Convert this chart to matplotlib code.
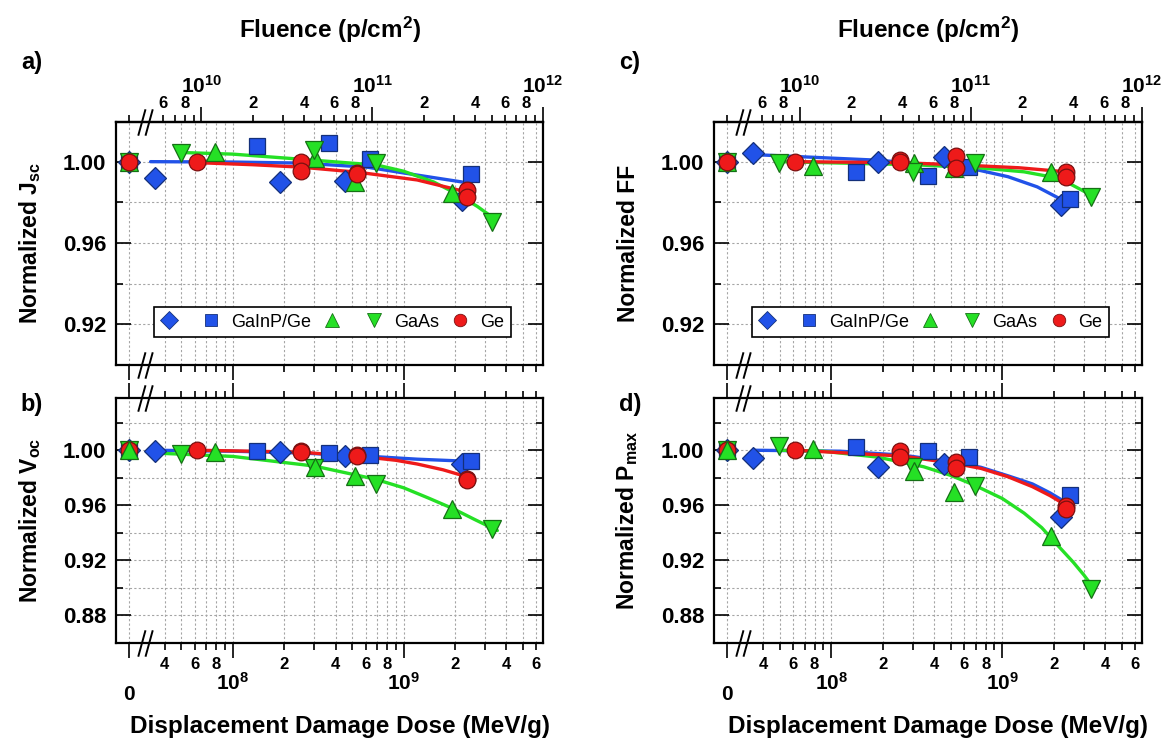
import matplotlib
matplotlib.use('Agg')
import matplotlib.pyplot as plt
import matplotlib.transforms as mtransforms
from matplotlib.lines import Line2D
from matplotlib.path import Path

plt.rcParams['font.family'] = ['Liberation Sans', 'DejaVu Sans']
plt.rcParams['font.weight'] = 'bold'
plt.rcParams['mathtext.fontset'] = 'custom'
plt.rcParams['mathtext.rm'] = 'Liberation Sans'
plt.rcParams['mathtext.bf'] = 'Liberation Sans:bold'
plt.rcParams['mathtext.it'] = 'Liberation Sans:italic'
plt.rcParams['mathtext.default'] = 'bf'

#
#--- displacement damage dose of each sample (MeV/g), 0 = unirradiated reference
#
dose_diamond = [0, 3.51e7, 1.89e8, 4.55e8, 2.19e9]
dose_square  = [0, 1.39e8, 3.67e8, 6.37e8, 2.49e9]
dose_up      = [0, 7.88e7, 3.03e8, 5.20e8, 1.93e9]
dose_down    = [0, 4.99e7, 3.00e8, 6.92e8, 3.31e9]
dose_ge      = [0, 6.18e7, 2.51e8, 2.51e8, 5.35e8, 5.35e8, 2.36e9, 2.36e9]

#
#--- normalized Jsc
#
jsc_diamond = [1.000, 0.9919, 0.9900, 0.9905, 0.9812]
jsc_square  = [1.000, 1.0076, 1.0090, 1.0012, 0.9939]
jsc_up      = [1.000, 1.0046, 1.0020, 0.9900, 0.9846]
jsc_down    = [1.000, 1.0041, 1.0056, 0.9993, 0.9705]
jsc_ge      = [1.000, 1.000, 1.000, 0.9954, 0.9944, 0.9938, 0.9861, 0.9827]
#
#--- normalized Voc
#
voc_diamond = [1.000, 0.9993, 0.9986, 0.9957, 0.9899]
voc_square  = [1.000, 0.9993, 0.9978, 0.9964, 0.9921]
voc_up      = [1.000, 0.9986, 0.9877, 0.9813, 0.9575]
voc_down    = [1.000, 0.9971, 0.9870, 0.9755, 0.9430]
voc_ge      = [1.000, 1.000, 0.9993, 0.9985, 0.9964, 0.9960, 0.9790, 0.9780]
#
#--- normalized FF
#
ff_diamond  = [1.000, 1.0041, 0.9998, 1.0022, 0.9788]
ff_square   = [1.000, 0.9949, 0.9929, 0.9973, 0.9817]
ff_up       = [1.000, 0.9980, 0.9995, 0.9970, 0.9950]
ff_down     = [1.000, 0.9991, 0.9950, 0.9991, 0.9828]
ff_ge       = [1.000, 1.000, 1.0007, 0.9998, 1.0027, 0.9968, 0.9950, 0.9924]
#
#--- normalized Pmax
#
pmax_diamond = [1.000, 0.9942, 0.9877, 0.9899, 0.9517]
pmax_square  = [1.000, 1.0022, 0.9993, 0.9950, 0.9676]
pmax_up      = [1.000, 1.0007, 0.9849, 0.9697, 0.9373]
pmax_down    = [1.000, 1.0029, 0.9880, 0.9740, 0.8993]
pmax_ge      = [1.000, 1.000, 0.9993, 0.9950, 0.9913, 0.9870, 0.9597, 0.9570]

#
#--- fitted curves (dose, value)
#
jsc_fit_gainp_dose = [3.3e7, 1.0e8, 2.5e8, 6.1e8, 1.2e9, 2.2e9]
jsc_fit_gainp      = [1.000, 0.9998, 0.9993, 0.9973, 0.9934, 0.9900]
jsc_fit_gaas_dose  = [5.0e7, 1.0e8, 2.5e8, 7.0e8, 1.0e9, 1.5e9, 2.0e9, 2.7e9, 3.5e9]
jsc_fit_gaas       = [1.0045, 1.0037, 1.0012, 0.9983, 0.9953, 0.9900, 0.9846, 0.9780, 0.9712]
jsc_fit_ge_dose    = [6.2e7, 1.3e8, 2.5e8, 5.4e8, 1.2e9, 2.36e9]
jsc_fit_ge         = [0.9995, 0.9985, 0.9973, 0.9948, 0.9910, 0.9850]

voc_fit_gainp_dose = [3.5e7, 1.0e8, 2.5e8, 6.1e8, 1.2e9, 2.15e9]
voc_fit_gainp      = [1.000, 0.9993, 0.9980, 0.9957, 0.9935, 0.9922]
voc_fit_gaas_dose  = [3.6e7, 1.0e8, 3.0e8, 6.8e8, 1.0e9, 1.4e9, 1.95e9, 2.6e9, 3.54e9]
voc_fit_gaas       = [0.9979, 0.9955, 0.9885, 0.9790, 0.9727, 0.9652, 0.9575, 0.9497, 0.9416]
voc_fit_ge_dose    = [6.2e7, 1.3e8, 2.5e8, 6.1e8, 9.0e8, 1.2e9, 1.7e9, 2.36e9]
voc_fit_ge         = [1.000, 0.9993, 0.9986, 0.9950, 0.9927, 0.9900, 0.9858, 0.9806]

ff_fit_gainp_dose  = [3.46e7, 1.89e8, 4.55e8, 7.3e8, 1.08e9, 1.6e9, 2.2e9]
ff_fit_gainp       = [1.0035, 1.0007, 0.9980, 0.9958, 0.9926, 0.9876, 0.9815]
ff_fit_gaas_dose   = [5.0e7, 3.0e8, 7.2e8, 1.34e9, 1.93e9, 2.5e9, 3.31e9]
ff_fit_gaas        = [1.000, 0.9985, 0.9970, 0.9950, 0.9925, 0.9890, 0.9835]
ff_fit_ge_dose     = [6.2e7, 2.5e8, 5.35e8, 1.25e9, 2.36e9]
ff_fit_ge          = [1.000, 0.9995, 0.9985, 0.9970, 0.9950]

pmax_fit_gainp_dose = [3.51e7, 1.13e8, 2.65e8, 5.5e8, 7.5e8, 1.08e9, 1.5e9, 1.9e9, 2.3e9]
pmax_fit_gainp      = [1.000, 0.9993, 0.9964, 0.9907, 0.9876, 0.9814, 0.9755, 0.9690, 0.9628]
pmax_fit_gaas_dose  = [5.0e7, 9.0e7, 1.87e8, 3.47e8, 5.0e8, 6.82e8, 1.0e9, 1.34e9, 1.7e9,
                       2.12e9, 2.6e9, 3.0e9, 3.44e9]
pmax_fit_gaas       = [1.000, 0.9993, 0.9950, 0.9880, 0.9817, 0.9748, 0.9649, 0.9543, 0.9437,
                       0.9305, 0.9185, 0.9092, 0.8993]
pmax_fit_ge_dose    = [6.27e7, 2.65e8, 5.5e8, 7.5e8, 1.08e9, 1.5e9, 1.9e9, 2.36e9]
pmax_fit_ge         = [1.000, 0.9957, 0.9900, 0.9868, 0.9807, 0.9735, 0.9670, 0.9600]

legend_labels = ['', 'GaInP/Ge', '', 'GaAs', 'Ge']

#
#--- axis set up
#
x_left, x_right = 2.07e7, 6.55e9
zero_pos   = 2.48e7          #--- where the "0" dose sits on the broken log axis
break_pos  = 3.06e7
tick_start = 3.5e7
flu_per_dose = 152.8         #--- fluence (p/cm2) per MeV/g

blue, blue_e   = '#2152e8', '#14307a'
green, green_e = '#25e025', '#157015'
red, red_e     = '#ee1a1a', '#7a1010'

styles = {
    'dia': dict(marker='D', ms=11.5, mfc=blue,  mec=blue_e),
    'sq':  dict(marker='s', ms=12.0, mfc=blue,  mec=blue_e),
    'up':  dict(marker='^', ms=13.0, mfc=green, mec=green_e),
    'dn':  dict(marker='v', ms=13.0, mfc=green, mec=green_e),
    'ge':  dict(marker='o', ms=12.0, mfc=red,   mec=red_e),
}
series_dose = {'dia': dose_diamond, 'sq': dose_square, 'up': dose_up,
               'dn': dose_down, 'ge': dose_ge}


def place(dose):
    return [zero_pos if d == 0 else d for d in dose]


def decade_ticks(lo, hi, shown):
    ticks, labels = [], []
    for e in range(6, 13):
        for m in range(2, 10):
            v = m * 10.0 ** e
            if lo < v < hi:
                ticks.append(v)
                labels.append(str(m) if m in shown else '')
    return ticks, labels


#--------------------------------------------------------------------------------
#-- draw_panel: one of the four panels                                        ---
#--------------------------------------------------------------------------------

def draw_panel(ax, values, fits, ylim, ymajor, yminor, ylabel, order, top_axis):

    ax.set_xscale('log')
    ax.set_xlim(x_left, x_right)
    ax.set_ylim(*ylim)
#
#--- fitted curves
#
    for fd, fv, col in fits:
        ax.plot(fd, fv, color=col, lw=2.4, zorder=3, solid_capstyle='round',
                solid_joinstyle='round')
#
#--- data points
#
    for key in order:
        ax.plot(place(series_dose[key]), values[key], ls='none', mew=0.9,
                zorder=4, clip_on=False, **styles[key])
#
#--- x ticks (dose)
#
    ax.set_xticks([zero_pos, 1e8, 1e9], labels=['', r'$10^{8}$', r'$10^{9}$'])
    mt, ml = decade_ticks(tick_start, x_right, (2, 4, 6, 8))
    ax.set_xticks(mt, labels=ml, minor=True)
    ax.tick_params(axis='x', which='major', direction='out', length=11, width=1.2,
                   pad=10, labelsize=15)
    ax.tick_params(axis='x', which='minor', direction='out', length=5, width=1.2,
                   pad=5, labelsize=12)
    if top_axis:
        ax.tick_params(axis='x', which='both', top=False, bottom=True, labelbottom=False)
    else:
        ax.tick_params(axis='x', which='both', top=True, bottom=True,
                       labeltop=False, labelbottom=True)
        ax.annotate('0', xy=(zero_pos, 0), xycoords=('data', 'axes fraction'),
                    xytext=(0, -37), textcoords='offset points',
                    ha='center', va='center', fontsize=15, fontweight='bold')
#
#--- y ticks
#
    ax.set_yticks(ymajor, labels=['%.2f' % v for v in ymajor])
    ax.set_yticks(yminor, minor=True)
    ax.tick_params(axis='y', which='both', direction='in', left=True, right=True,
                   width=1.2, labelsize=16, pad=7)
    ax.tick_params(axis='y', which='major', length=11)
    ax.tick_params(axis='y', which='minor', length=5)
    ax.set_ylabel(ylabel, fontsize=16.5, fontweight='bold')
    ax.yaxis.set_label_coords(-0.172, 0.5)

    ax.grid(True, which='both', color='#a5a5a5', ls=(0, (2, 2)), lw=0.8, zorder=0)
    ax.set_axisbelow(True)
    for sp in ax.spines.values():
        sp.set_linewidth(1.6)
#
#--- fluence axis on top
#
    if top_axis:
        sec = ax.secondary_xaxis('top', functions=(lambda d: d * flu_per_dose,
                                                   lambda f: f / flu_per_dose))
        sec.set_xticks([1e10, 1e11, 1e12],
                       labels=[r'$10^{10}$', r'$10^{11}$', r'$10^{12}$'])
        ft, fl = decade_ticks(tick_start * flu_per_dose, x_right * flu_per_dose * 0.999,
                              (2, 4, 6, 8))
        sec.set_xticks([zero_pos * flu_per_dose] + ft, labels=[''] + fl, minor=True)
        sec.tick_params(which='major', direction='out', length=11, width=1.2,
                        pad=7, labelsize=15)
        sec.tick_params(which='minor', direction='out', length=5, width=1.2,
                        pad=3, labelsize=12)
        sec.spines['top'].set_linewidth(1.6)
#
#--- axis break marks "//"
#
    brk = Path([(-0.55, -1), (0, 1), (0, -1), (0.55, 1)],
               [Path.MOVETO, Path.LINETO, Path.MOVETO, Path.LINETO])
    trans = mtransforms.blended_transform_factory(ax.transData, ax.transAxes)
    ax.plot([break_pos, break_pos], [0, 1], ls='none', marker=brk, ms=19,
            mfc='none', mec='k', mew=1.4, transform=trans, clip_on=False, zorder=6)


#
#--- figure
#
fig = plt.figure(figsize=(11.66, 7.42), dpi=100)
W, H = 1166.0, 742.0

ax_a = fig.add_axes([116 / W, (H - 365) / H, 427 / W, 243 / H])
ax_b = fig.add_axes([116 / W, (H - 643) / H, 427 / W, 245 / H])
ax_c = fig.add_axes([714 / W, (H - 365) / H, 428 / W, 243 / H])
ax_d = fig.add_axes([714 / W, (H - 643) / H, 428 / W, 245 / H])

order_ac = ['dia', 'sq', 'up', 'dn', 'ge']
order_bd = ['dia', 'sq', 'dn', 'ge', 'up']

draw_panel(ax_a,
           {'dia': jsc_diamond, 'sq': jsc_square, 'up': jsc_up, 'dn': jsc_down, 'ge': jsc_ge},
           [(jsc_fit_gainp_dose, jsc_fit_gainp, blue), (jsc_fit_gaas_dose, jsc_fit_gaas, green),
            (jsc_fit_ge_dose, jsc_fit_ge, red)],
           (0.901, 1.0195), [0.92, 0.96, 1.00], [0.90, 0.94, 0.98],
           r'Normalized J$_{sc}$', order_ac, True)

draw_panel(ax_b,
           {'dia': voc_diamond, 'sq': voc_square, 'up': voc_up, 'dn': voc_down, 'ge': voc_ge},
           [(voc_fit_gainp_dose, voc_fit_gainp, blue), (voc_fit_gaas_dose, voc_fit_gaas, green),
            (voc_fit_ge_dose, voc_fit_ge, red)],
           (0.8598, 1.038), [0.88, 0.92, 0.96, 1.00], [0.86, 0.90, 0.94, 0.98, 1.02],
           r'Normalized V$_{oc}$', order_bd, False)

draw_panel(ax_c,
           {'dia': ff_diamond, 'sq': ff_square, 'up': ff_up, 'dn': ff_down, 'ge': ff_ge},
           [(ff_fit_gainp_dose, ff_fit_gainp, blue), (ff_fit_gaas_dose, ff_fit_gaas, green),
            (ff_fit_ge_dose, ff_fit_ge, red)],
           (0.901, 1.0195), [0.92, 0.96, 1.00], [0.90, 0.94, 0.98],
           'Normalized FF', order_ac, True)

draw_panel(ax_d,
           {'dia': pmax_diamond, 'sq': pmax_square, 'up': pmax_up, 'dn': pmax_down, 'ge': pmax_ge},
           [(pmax_fit_gainp_dose, pmax_fit_gainp, blue), (pmax_fit_gaas_dose, pmax_fit_gaas, green),
            (pmax_fit_ge_dose, pmax_fit_ge, red)],
           (0.8598, 1.038), [0.88, 0.92, 0.96, 1.00], [0.86, 0.90, 0.94, 0.98, 1.02],
           r'Normalized P$_{max}$', order_bd, False)

#
#--- legends in the upper panels
#
leg_ms = {'dia': 9.0, 'sq': 9.0, 'up': 10.5, 'dn': 10.5, 'ge': 9.0}
for ax in (ax_a, ax_c):
    handles = []
    for key in order_ac:
        st = dict(styles[key])
        st['ms'] = leg_ms[key]
        handles.append(Line2D([], [], ls='none', mew=0.6, **st))
    leg = ax.legend(handles, legend_labels, loc='lower left', bbox_to_anchor=(0.089, 0.115),
                    ncol=5, frameon=True, fancybox=False, edgecolor='k', framealpha=1,
                    borderaxespad=0, handlelength=1.0, handletextpad=0.6,
                    columnspacing=0.7, borderpad=0.35,
                    prop={'family': 'Liberation Sans', 'weight': 'normal', 'size': 13})
    leg.get_frame().set_linewidth(1.2)
    leg.set_zorder(7)

#
#--- panel letters and axis titles
#
for txt, x, y in (('a)', 32, 62), ('b)', 32, 405), ('c)', 630, 62), ('d)', 630, 405)):
    fig.text(x / W, 1 - y / H, txt, ha='center', va='center', fontsize=17, fontweight='bold')

for x in (330, 928):
    fig.text(x / W, 1 - 30 / H, r'Fluence (p/cm$^{2}$)', ha='center', va='center',
             fontsize=17.5, fontweight='bold')
for x in (340, 938):
    fig.text(x / W, 1 - 727 / H, 'Displacement Damage Dose (MeV/g)', ha='center',
             va='center', fontsize=17.5, fontweight='bold')

fig.savefig('out.png', dpi=100, facecolor='white')
